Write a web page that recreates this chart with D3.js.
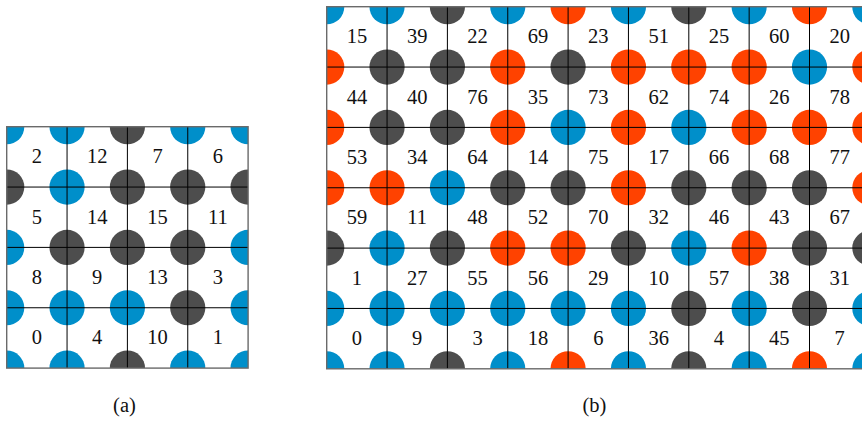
<!DOCTYPE html>
<html>
<head>
<meta charset="utf-8">
<script src="https://cdn.jsdelivr.net/npm/d3@7"></script>
<style>
  html, body { margin: 0; padding: 0; background: #fff; }
  svg { display: block; }
  text { font-family: "Liberation Serif", "DejaVu Serif", serif; fill: #111; }
</style>
</head>
<body>
<svg id="chart" width="862" height="424"></svg>
<script>
// Cell numbers, listed top row first
const cellsA = [
  [2, 12, 7, 6],
  [5, 14, 15, 11],
  [8, 9, 13, 3],
  [0, 4, 10, 1]
];
const cellsB = [
  [15, 39, 22, 69, 23, 51, 25, 60, 20],
  [44, 40, 76, 35, 73, 62, 74, 26, 78],
  [53, 34, 64, 14, 75, 17, 66, 68, 77],
  [59, 11, 48, 52, 70, 32, 46, 43, 67],
  [1, 27, 55, 56, 29, 10, 57, 38, 31],
  [0, 9, 3, 18, 6, 36, 4, 45, 7]
];
// Vertex classes (B = blue, G = gray, R = red), top row first
const nodesA = [
  "BBGBB",
  "GBGGG",
  "BGGGB",
  "BBBGB",
  "BBGBB"
];
const nodesB = [
  "BBGBRBGBRB",
  "RGGRGRRRBR",
  "RGGRBRBRRR",
  "RRBGGRGGGR",
  "GBGRRGBRGG",
  "BBBBBBGBGB",
  "BBGBRBGBRB"
];
const subLabels = ["(a)", "(b)"];

const colour = d3.scaleOrdinal()
  .domain(["B", "G", "R"])
  .range(["#008fca", "#4d4d4d", "#ff4200"]);

const svg = d3.select("#chart");
const cell = 60.35;
const radius = 17.6;

function drawGrid(id, left, top, cells, nodes, label, labelX) {
  const rows = cells.length, cols = cells[0].length;
  const x = d3.scaleLinear().domain([0, cols]).range([left, left + cols * cell]);
  const y = d3.scaleLinear().domain([0, rows]).range([top, top + rows * cell]);

  svg.append("clipPath").attr("id", id)
    .append("rect")
    .attr("x", x(0)).attr("y", y(0))
    .attr("width", x(cols) - x(0)).attr("height", y(rows) - y(0));

  const g = svg.append("g");
  const clipped = g.append("g").attr("clip-path", `url(#${id})`);

  // vertex discs
  const pts = [];
  nodes.forEach((row, j) => row.split("").forEach((c, i) => pts.push({ i, j, c })));
  clipped.selectAll("circle").data(pts).join("circle")
    .attr("cx", d => x(d.i)).attr("cy", d => y(d.j))
    .attr("r", radius)
    .attr("fill", d => colour(d.c));

  // inner grid lines
  clipped.selectAll("line.v").data(d3.range(1, cols)).join("line")
    .attr("class", "v")
    .attr("x1", d => x(d)).attr("x2", d => x(d))
    .attr("y1", y(0)).attr("y2", y(rows))
    .attr("stroke", "#000").attr("stroke-width", 1);
  clipped.selectAll("line.h").data(d3.range(1, rows)).join("line")
    .attr("class", "h")
    .attr("y1", d => y(d)).attr("y2", d => y(d))
    .attr("x1", x(0)).attr("x2", x(cols))
    .attr("stroke", "#000").attr("stroke-width", 1);

  // outer frame
  g.append("rect")
    .attr("x", x(0)).attr("y", y(0))
    .attr("width", x(cols) - x(0)).attr("height", y(rows) - y(0))
    .attr("fill", "none").attr("stroke", "#6a6a6a").attr("stroke-width", 1.4);

  // cell numbers
  const txt = [];
  cells.forEach((row, j) => row.forEach((v, i) => txt.push({ i, j, v })));
  g.selectAll("text.num").data(txt).join("text")
    .attr("class", "num")
    .attr("x", d => x(d.i + 0.5))
    .attr("y", d => y(d.j + 0.5) + 6.3)
    .attr("text-anchor", "middle")
    .attr("font-size", 20.5)
    .text(d => d.v);

  svg.append("text")
    .attr("x", labelX).attr("y", 412)
    .attr("text-anchor", "middle")
    .attr("font-size", 20.5)
    .text(label);
}

drawGrid("clipA", 6.7, 126.7, cellsA, nodesA, subLabels[0], 124.5);
drawGrid("clipB", 326.7, 6.7, cellsB, nodesB, subLabels[1], 594.5);
</script>
</body>
</html>
